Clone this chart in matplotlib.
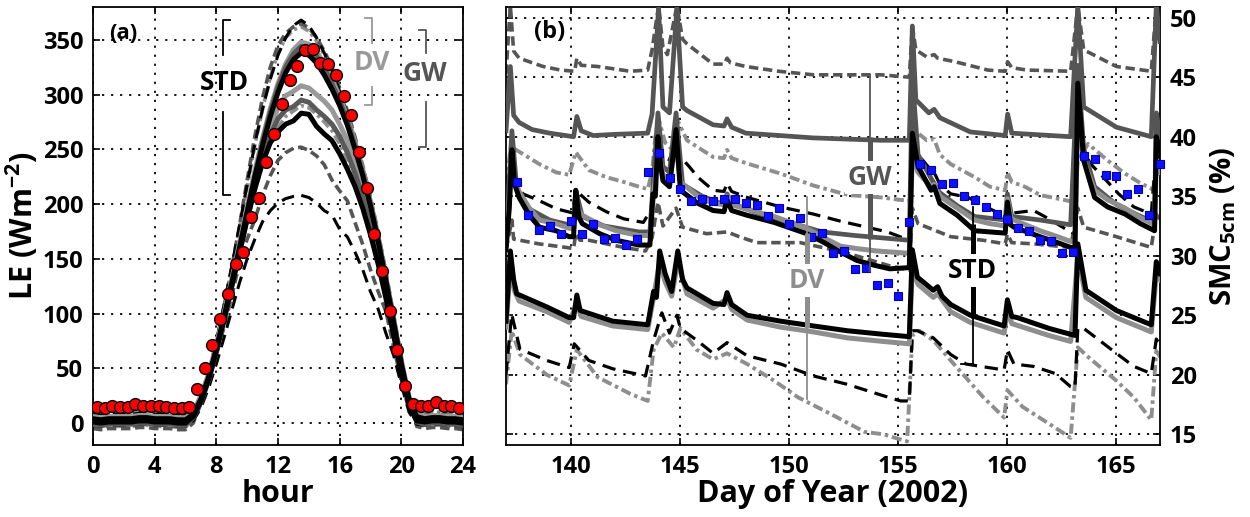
import matplotlib
matplotlib.use('Agg')
import matplotlib.pyplot as plt

plt.rcParams['font.family'] = ['Open Sans', 'DejaVu Sans']
plt.rcParams['font.weight'] = 'bold'
plt.rcParams['mathtext.fontset'] = 'custom'
plt.rcParams['mathtext.rm'] = 'Open Sans:bold'
plt.rcParams['mathtext.bf'] = 'Open Sans:bold'
plt.rcParams['mathtext.default'] = 'bf'

# ---------------- Panel (a): diurnal LE ----------------
hours = [0.0, 0.5, 1.0, 1.5, 2.0, 2.5, 3.0, 3.5, 4.0, 4.5, 5.0, 5.5, 6.0, 6.5, 7.0, 7.5,
         8.0, 8.5, 9.0, 9.5, 10.0, 10.5, 11.0, 11.5, 12.0, 12.5, 13.0, 13.5, 14.0, 14.5,
         15.0, 15.5, 16.0, 16.5, 17.0, 17.5, 18.0, 18.5, 19.0, 19.5, 20.0, 20.5, 21.0,
         21.5, 22.0, 22.5, 23.0, 23.5, 24.0]

le_std_wet = [4, 3, 4, 4, 4, 4, 5, 5, 4, 4, 4, 3, 3, 8, 22, 42, 68, 97, 128, 160, 193, 225, 254, 280,
              302, 320, 332, 338, 336, 329, 318, 305, 290, 272, 250, 226, 198, 166, 130, 92, 54, 22, 6,
              4, 5, 5, 4, 4, 3]
le_dv_wet = [6, 5, 6, 6, 6, 6, 7, 7, 6, 6, 6, 5, 5, 10, 25, 45, 71, 100, 131, 164, 197, 230, 260, 287,
             310, 328, 341, 348, 346, 339, 328, 314, 298, 279, 256, 231, 202, 170, 133, 95, 57, 24, 8,
             6, 7, 7, 6, 6, 5]
le_gw_wet = [2, 1, 2, 2, 2, 2, 3, 3, 2, 2, 2, 1, 1, 6, 20, 40, 66, 95, 126, 158, 192, 226, 257, 284,
             307, 325, 337, 344, 342, 335, 324, 310, 294, 276, 253, 228, 200, 168, 131, 93, 55, 21, 3,
             2, 3, 3, 2, 2, 1]
le_std_dry = [1, 0, 1, 1, 1, 1, 2, 2, 1, 1, 1, 0, 0, 6, 20, 40, 66, 95, 125, 155, 186, 214, 238, 256,
              266, 273, 276, 283, 282, 271, 264, 258, 246, 232, 216, 196, 172, 145, 114, 80, 46, 16, 2,
              1, 2, 2, 1, 1, 0]
le_dv_dry = [3, 2, 3, 3, 3, 3, 4, 4, 3, 3, 3, 2, 2, 9, 23, 43, 69, 98, 129, 160, 192, 222, 248, 270,
             288, 299, 303, 308, 306, 300, 294, 286, 273, 258, 239, 216, 190, 160, 126, 89, 53, 20, 5,
             3, 4, 4, 3, 3, 2]
le_gw_dry = [-1, -2, -1, -1, -1, -1, 0, 0, -1, -1, -1, -2, -2, 5, 19, 39, 65, 94, 125, 156, 188, 218,
             243, 263, 278, 286, 289, 295, 293, 286, 280, 273, 262, 247, 228, 206, 181, 152, 120, 85,
             50, 18, 1, -1, 0, 0, -1, -1, -2]
le_std_hi = [8, 7, 8, 8, 8, 8, 9, 9, 8, 8, 8, 7, 7, 10, 25, 47, 75, 108, 143, 180, 218, 255, 287, 314,
             336, 352, 363, 368, 363, 352, 338, 322, 303, 282, 258, 232, 203, 171, 135, 96, 58, 24, 8,
             7, 8, 8, 7, 7, 6]
le_std_lo = [-2, -3, -2, -2, -2, -2, -1, -1, -2, -2, -2, -3, -3, 2, 14, 32, 54, 78, 103, 128, 150, 168,
             184, 194, 201, 205, 207, 208, 206, 201, 194, 190, 177, 170, 156, 140, 120, 104, 82, 62, 35,
             10, -1, -2, -1, -1, -2, -2, -3]
le_gw_hi = [-5, -6, -5, -5, -5, -5, -4, -4, -5, -5, -5, -6, -6, 0, 18, 42, 72, 106, 142, 180, 222, 262,
            297, 325, 345, 356, 362, 365, 361, 352, 340, 325, 306, 285, 261, 235, 206, 174, 138, 99,
            60, 22, -3, -5, -4, -4, -5, -5, -6]
le_gw_lo = [6, 5, 6, 6, 6, 6, 7, 7, 6, 6, 6, 5, 5, 8, 20, 39, 62, 88, 116, 146, 168, 186, 208, 226,
            240, 247, 251, 252, 249, 244, 236, 222, 212, 203, 183, 163, 140, 120, 102, 70, 38, 12, 5,
            6, 7, 7, 6, 6, 5]
le_dv_hi = [-3, -4, -3, -3, -3, -3, -2, -2, -3, -3, -3, -4, -4, 3, 20, 44, 73, 106, 141, 178, 216, 254,
            287, 316, 338, 352, 359, 362, 358, 349, 336, 321, 303, 282, 258, 232, 204, 172, 136, 97,
            58, 22, 0, -3, -2, -2, -3, -3, -4]
le_dv_lo = [9, 8, 9, 9, 9, 9, 10, 10, 9, 9, 9, 8, 8, 11, 24, 43, 68, 96, 125, 155, 185, 212, 236, 256,
            270, 280, 285, 290, 288, 282, 275, 267, 255, 240, 222, 200, 176, 149, 118, 84, 50, 19, 10,
            9, 10, 10, 9, 9, 8]

obs_hours = [0.25, 0.75, 1.25, 1.75, 2.25, 2.75, 3.25, 3.75, 4.25, 4.75, 5.25, 5.75, 6.25, 6.75,
             7.25, 7.75, 8.25, 8.75, 9.25, 9.75, 10.25, 10.75, 11.25, 11.75, 12.25, 12.75, 13.25,
             13.75, 14.25, 14.75, 15.25, 15.75, 16.25, 16.75, 17.25, 17.75, 18.25, 18.75, 19.25,
             19.75, 20.25, 20.75, 21.25, 21.75, 22.25, 22.75, 23.25, 23.75]
le_obs = [15, 14, 16, 15, 15, 17, 16, 16, 16, 15, 14, 14, 15, 31, 50, 71, 95, 118, 145, 156, 188, 206,
          238, 264, 291, 313, 326, 341, 342, 329, 328, 318, 299, 281, 248, 215, 173, 139, 102, 67, 34,
          17, 16, 16, 19, 16, 16, 14]

hour_ticks = [0, 4, 8, 12, 16, 20, 24]
le_ticks = [0, 50, 100, 150, 200, 250, 300, 350]

# ---------------- Panel (b): soil moisture (day, SMC) ----------------
gw_hi = [(137.0, 45.3), (137.2, 51.0), (137.35, 47.2), (137.6, 46.6), (138.7, 45.9), (139.5, 45.6),
         (140.15, 45.5), (140.25, 46.6), (140.45, 46.0), (141.2, 45.9), (142.7, 45.5), (143.5, 45.6),
         (143.7, 47.3), (144.0, 51.0), (144.2, 47.5), (144.4, 46.9), (144.84, 51.0), (145.1, 48.2),
         (145.3, 47.8), (146.5, 46.1), (147.0, 46.1), (147.14, 46.6), (147.3, 46.2), (148.0, 45.9),
         (149.5, 45.5), (151.1, 45.2), (154.2, 45.2), (155.5, 45.0), (155.64, 49.3), (155.8, 47.3),
         (156.3, 46.7), (156.64, 46.9), (156.8, 46.6), (157.6, 46.3), (159.1, 45.6), (159.9, 45.5),
         (160.01, 46.3), (160.2, 45.8), (160.9, 45.6), (162.9, 45.5), (163.23, 51.0), (163.5, 47.3),
         (165.0, 45.9), (166.6, 45.5), (166.83, 51.0), (167.0, 49.0)]
gw_mid = [(137.0, 40.5), (137.2, 45.9), (137.35, 41.8), (137.6, 41.2), (138.2, 40.6), (139.0, 40.3),
          (140.1, 40.0), (140.25, 41.7), (140.45, 40.5), (141.0, 40.1), (142.0, 40.2), (143.5, 40.3),
          (143.7, 41.9), (144.0, 50.8), (144.2, 42.5), (144.5, 42.0), (144.84, 50.8), (145.1, 42.5),
          (145.3, 42.2), (146.5, 41.0), (147.0, 40.9), (147.14, 41.5), (147.35, 40.8), (148.0, 40.3),
          (151.1, 39.9), (154.2, 39.7), (155.5, 39.7), (155.64, 49.3), (155.8, 43.1), (156.4, 42.0),
          (156.64, 42.3), (156.9, 41.6), (157.6, 41.0), (158.3, 40.4), (159.9, 40.1), (160.01, 41.9),
          (160.2, 40.3), (162.9, 40.0), (163.23, 51.0), (163.5, 42.5), (165.0, 40.8), (166.6, 40.0),
          (166.83, 51.0), (167.0, 48.0)]
gw_wet = [(137.0, 31.0), (137.27, 40.5), (137.5, 35.5), (138.0, 34.0), (139.0, 33.0), (140.1, 32.5),
          (140.2, 35.5), (140.5, 33.3), (141.5, 32.5), (143.1, 32.0), (143.6, 32.0), (143.97, 42.0),
          (144.2, 37.5), (144.5, 37.0), (144.8, 42.0), (145.1, 36.0), (146.0, 35.0), (147.0, 34.3),
          (147.14, 35.2), (147.35, 34.4), (148.5, 33.6), (150.0, 32.8), (151.5, 32.0), (153.0, 31.7),
          (155.5, 31.3), (155.64, 45.0), (155.9, 38.5), (156.5, 36.5), (156.9, 35.3), (157.7, 34.2),
          (158.5, 33.3), (159.9, 33.0), (160.0, 35.2), (160.2, 33.3), (161.5, 33.0), (162.9, 32.6),
          (163.23, 46.0), (163.5, 39.0), (164.0, 35.8), (165.0, 34.3), (166.0, 33.4), (166.75, 32.8),
          (166.83, 42.0), (167.0, 40.0)]
gw_lo = [(137.0, 30.5), (137.27, 33.0), (137.35, 31.4), (138.5, 31.0), (139.75, 30.7), (140.1, 30.6),
         (140.2, 31.85), (140.4, 31.3), (140.8, 31.3), (142.4, 30.7), (143.4, 30.4), (143.7, 31.5),
         (143.97, 34.5), (144.2, 32.5), (144.8, 34.0), (145.1, 32.4), (146.2, 31.85), (147.14, 32.0),
         (147.7, 31.6), (148.5, 31.1), (150.5, 31.1), (152.5, 30.3), (154.5, 29.2), (155.5, 28.8),
         (155.64, 34.0), (155.9, 32.7), (157.4, 31.6), (158.9, 31.3), (159.9, 31.0), (160.0, 31.8),
         (160.2, 31.1), (161.2, 31.0), (162.9, 30.7), (163.23, 34.0), (163.5, 32.4), (165.0, 31.6),
         (166.6, 30.7), (166.83, 33.5), (167.0, 33.0)]
dv_hi = [(137.0, 36.0), (137.22, 39.2), (137.46, 38.9), (138.53, 37.7), (139.3, 37.0), (139.9, 36.8),
         (140.2, 38.7), (140.8, 37.2), (141.6, 36.6), (142.4, 36.2), (143.1, 35.8), (143.5, 35.6),
         (143.7, 37.0), (143.85, 40.0), (144.0, 41.5), (144.3, 39.5), (144.6, 39.0), (144.84, 41.5),
         (145.3, 39.7), (146.5, 38.3), (147.0, 38.2), (147.14, 38.9), (147.35, 38.2), (148.06, 37.75),
         (149.6, 36.9), (151.1, 35.9), (152.7, 35.1), (154.2, 34.9), (155.5, 34.6), (155.64, 38.0),
         (155.9, 40.3), (156.3, 39.7), (156.64, 39.8), (156.9, 38.5), (157.4, 37.7), (158.5, 36.6),
         (159.2, 35.8), (159.9, 35.5), (160.0, 37.0), (160.2, 36.2), (160.8, 35.8), (161.5, 35.1),
         (162.3, 34.8), (163.1, 34.5), (163.23, 38.0), (163.7, 39.4), (164.6, 38.0), (165.4, 36.9),
         (166.1, 36.1), (166.75, 35.5), (166.83, 38.0), (167.0, 37.5)]
dv_wet = [(137.0, 31.0), (137.15, 34.5), (137.27, 38.0), (137.4, 36.3), (137.6, 35.4), (138.07, 34.0),
          (138.53, 33.0), (139.3, 32.7), (139.9, 32.3), (140.1, 32.3), (140.2, 35.0), (140.35, 33.8),
          (140.5, 33.4), (141.3, 32.6), (142.05, 32.1), (143.1, 31.7), (143.6, 31.7), (143.74, 34.5),
          (143.97, 39.0), (144.2, 36.8), (144.5, 36.4), (144.8, 39.5), (145.0, 36.2), (145.8, 35.0),
          (146.5, 34.4), (147.0, 34.3), (147.14, 35.0), (147.35, 34.3), (148.06, 33.9), (149.3, 33.3),
          (150.8, 32.3), (151.6, 31.5), (152.35, 30.8), (153.1, 30.6), (154.0, 30.4), (155.5, 30.2),
          (155.64, 38.5), (155.9, 37.0), (156.5, 35.8), (156.64, 36.0), (156.9, 35.0), (157.7, 34.0),
          (158.5, 33.0), (159.2, 32.7), (159.9, 32.5), (160.0, 34.8), (160.15, 33.2), (160.3, 33.0),
          (161.5, 32.1), (162.3, 31.6), (162.9, 31.2), (163.1, 31.2), (163.23, 42.0), (163.5, 38.0),
          (164.0, 35.5), (164.6, 34.7), (165.4, 34.0), (166.1, 33.2), (166.75, 32.6), (166.83, 38.0),
          (167.0, 37.0)]
std_hi = [(137.0, 33.0), (137.22, 38.5), (137.5, 36.0), (137.77, 35.2), (138.5, 34.65), (139.3, 33.95),
          (140.05, 33.6), (140.2, 35.5), (140.8, 34.5), (141.6, 33.7), (142.4, 33.1), (143.3, 32.8),
          (143.7, 34.0), (143.9, 38.5), (144.1, 37.2), (144.4, 37.7), (144.84, 39.5), (145.0, 38.3),
          (145.4, 37.5), (145.8, 36.6), (146.5, 35.5), (147.0, 35.4), (147.14, 36.1), (147.35, 35.4),
          (148.06, 34.9), (149.6, 34.1), (151.1, 33.5), (152.35, 32.9), (154.5, 32.0), (155.5, 31.3),
          (155.64, 39.0), (155.9, 38.5), (156.4, 37.4), (156.64, 37.0), (156.9, 36.0), (157.4, 35.2),
          (158.2, 34.9), (158.9, 34.2), (159.7, 33.5), (160.0, 33.4), (160.1, 34.2), (160.3, 33.6),
          (161.2, 33.8), (162.0, 33.0), (162.8, 32.1), (163.1, 31.8), (163.23, 40.0), (163.8, 37.75),
          (164.4, 36.6), (165.1, 35.2), (165.8, 34.1), (166.6, 33.5), (166.83, 39.0), (167.0, 38.0)]
std_wet = [(137.0, 30.5), (137.15, 34.0), (137.27, 38.9), (137.4, 36.0), (137.6, 34.9), (138.07, 33.4),
           (138.53, 32.4), (139.3, 32.1), (139.9, 31.6), (140.1, 31.6), (140.2, 35.5), (140.35, 33.2),
           (140.5, 32.7), (141.3, 31.85), (142.05, 31.3), (143.1, 30.9), (143.6, 30.9), (143.74, 35.2),
           (143.85, 35.0), (143.97, 40.0), (144.1, 37.5), (144.2, 36.3), (144.5, 35.8), (144.8, 40.6),
           (145.0, 35.5), (145.8, 34.4), (146.5, 33.8), (147.0, 33.7), (147.14, 34.7), (147.35, 33.8),
           (148.06, 33.4), (149.3, 32.8), (150.8, 31.85), (151.6, 31.1), (152.35, 30.3), (153.1, 29.6),
           (153.9, 29.2), (154.6, 28.9), (155.5, 29.0), (155.64, 40.3), (155.9, 37.5), (156.5, 35.5),
           (156.64, 35.8), (156.9, 34.4), (157.7, 33.4), (158.5, 32.1), (159.2, 32.0), (159.9, 31.9),
           (160.0, 34.5), (160.15, 32.6), (160.3, 32.4), (161.5, 31.6), (162.3, 31.1), (162.9, 30.7),
           (163.1, 30.7), (163.23, 44.5), (163.5, 38.0), (164.0, 34.9), (164.6, 34.1), (165.4, 33.5),
           (166.1, 32.7), (166.75, 32.1), (166.83, 40.0), (167.0, 38.5)]
std_dry = [(137.0, 24.5), (137.2, 30.4), (137.35, 28.0), (137.49, 26.8), (138.87, 25.7), (139.9, 24.8),
           (140.1, 24.8), (140.25, 26.7), (140.4, 25.4), (141.9, 24.5), (143.5, 24.2), (143.77, 27.0),
           (143.9, 26.5), (144.05, 30.4), (144.3, 28.5), (144.6, 27.0), (144.88, 30.4), (145.1, 28.0),
           (145.3, 27.3), (146.5, 26.0), (147.0, 25.9), (147.14, 26.9), (147.35, 25.9), (148.06, 25.0),
           (149.6, 24.5), (151.1, 24.1), (152.65, 23.7), (154.3, 23.4), (155.5, 23.2), (155.64, 30.5),
           (155.87, 28.2), (156.6, 27.1), (156.8, 27.4), (157.0, 26.6), (157.4, 25.9), (158.3, 25.0),
           (159.85, 24.1), (160.0, 26.3), (160.2, 24.9), (160.46, 24.8), (161.9, 23.9), (162.9, 23.4),
           (163.1, 23.3), (163.23, 31.0), (163.6, 27.1), (165.0, 25.4), (166.6, 24.2), (166.83, 29.5),
           (167.0, 28.5)]
dv_dry = [(137.0, 24.0), (137.2, 29.0), (137.4, 27.0), (137.6, 26.2), (138.87, 25.3), (139.9, 24.4),
          (140.25, 26.0), (140.45, 24.9), (141.9, 24.1), (143.5, 23.8), (143.77, 26.5), (144.05, 29.5),
          (144.3, 27.8), (144.6, 26.6), (144.88, 29.5), (145.3, 26.8), (146.5, 25.6), (147.14, 26.4),
          (147.35, 25.5), (148.06, 24.6), (149.6, 24.0), (151.1, 23.6), (152.65, 23.1), (154.3, 22.8),
          (155.5, 22.6), (155.64, 29.0), (155.9, 27.6), (156.6, 26.5), (156.8, 26.8), (157.4, 25.3),
          (158.3, 24.4), (159.85, 23.5), (160.0, 25.5), (160.2, 24.3), (161.9, 23.3), (162.9, 22.8),
          (163.23, 30.0), (163.6, 26.5), (165.0, 24.8), (166.6, 23.6), (166.83, 28.5), (167.0, 28.0)]
std_lo = [(137.0, 20.0), (137.26, 25.1), (137.64, 22.15), (138.87, 21.2), (139.9, 20.6), (140.13, 22.6),
          (140.8, 21.2), (141.9, 20.5), (143.4, 19.9), (143.77, 22.9), (144.15, 25.2), (144.5, 23.5),
          (144.84, 25.0), (145.0, 23.9), (145.75, 22.9), (146.5, 21.8), (147.14, 22.7), (148.06, 21.6),
          (149.6, 20.9), (151.1, 19.9), (152.65, 19.2), (154.2, 18.3), (155.1, 17.8), (155.5, 17.8),
          (155.64, 23.7), (155.87, 23.7), (156.6, 23.1), (157.4, 21.7), (158.1, 20.9), (159.85, 20.4),
          (160.0, 22.1), (160.3, 20.9), (161.2, 20.7), (162.2, 20.1), (162.9, 19.0), (163.1, 18.9),
          (163.23, 23.9), (163.5, 23.9), (165.0, 21.8), (165.8, 20.7), (166.6, 20.1), (166.83, 23.0),
          (167.0, 22.5)]
dv_lo = [(137.0, 19.2), (137.26, 23.7), (137.64, 21.7), (138.87, 20.0), (139.9, 19.1), (140.25, 22.1),
         (141.2, 19.8), (142.7, 18.4), (143.5, 17.8), (143.77, 22.1), (144.15, 23.5), (144.7, 22.3),
         (145.0, 23.9), (145.75, 22.1), (146.5, 21.3), (147.14, 21.8), (148.06, 20.9), (149.3, 19.5),
         (150.4, 18.1), (151.9, 16.7), (153.45, 15.2), (154.3, 15.0), (155.4, 14.4), (155.64, 23.3),
         (155.95, 23.7), (156.6, 22.9), (157.4, 21.2), (158.9, 18.1), (159.85, 16.4), (160.0, 18.7),
         (160.7, 17.3), (161.9, 15.9), (162.9, 14.7), (163.23, 22.3), (163.7, 21.5), (165.0, 19.5),
         (165.8, 18.1), (166.6, 16.2), (166.83, 22.0), (167.0, 21.5)]

obs_days = [137.5, 138.0, 138.5, 139.0, 139.5, 140.0, 140.5, 141.0, 141.5, 142.0, 142.5, 143.0,
            143.5, 144.0, 144.5, 145.0, 145.5, 146.0, 146.5, 147.0, 147.5, 148.0, 148.5, 149.0,
            149.5, 150.0, 150.5, 151.0, 151.5, 152.0, 152.5, 153.0, 153.5, 154.0, 154.5, 155.0,
            155.5, 156.0, 156.5, 157.0, 157.5, 158.0, 158.5, 159.0, 159.5, 160.0, 160.5, 161.0,
            161.5, 162.0, 162.5, 163.0, 163.5, 164.0, 164.5, 165.0, 165.5, 166.0, 166.5, 167.0]
smc_obs = [36.2, 33.4, 32.2, 32.5, 31.85, 32.9, 31.8, 32.7, 31.4, 31.5, 30.9, 31.4,
           37.0, 38.6, 36.5, 35.6, 34.6, 34.8, 34.6, 34.8, 34.8, 34.4, 34.3, 33.3,
           34.0, 32.7, 33.2, 31.6, 31.9, 30.2, 30.4, 28.9, 29.0, 27.5, 27.7, 26.6,
           32.8, 37.7, 37.2, 36.0, 36.1, 35.0, 34.7, 34.1, 33.5, 33.1, 32.3, 32.1,
           31.3, 31.2, 30.2, 30.3, 38.4, 38.1, 36.8, 36.7, 35.2, 35.6, 33.4, 37.7]

day_ticks = [140, 145, 150, 155, 160, 165]
smc_ticks = [15, 20, 25, 30, 35, 40, 45, 50]

# ---------------- styling ----------------
BLACK = '#000000'
LGRAY = '#8e8e8e'
DGRAY = '#555555'
DASH_K = (0, (4.2, 2.4))
DASH_G = (0, (2.6, 1.3))
DASHDOT = (0, (2.6, 1.0, 0.9, 1.0))
GRID_LS = (0, (1.2, 3.8))

fig = plt.figure(figsize=(12.5, 5.17), dpi=100)
ax_a = fig.add_axes([0.0744, 0.1393, 0.296, 0.8472])
ax_b = fig.add_axes([0.4048, 0.1393, 0.5232, 0.8472])

for ax in (ax_a, ax_b):
    ax.grid(True, linestyle=GRID_LS, color='k', lw=1.3, zorder=0)
    ax.tick_params(direction='in', length=5, width=1.2, top=True, right=True,
                   labelsize=17, pad=7)
    for sp in ax.spines.values():
        sp.set_linewidth(1.3)
    ax.set_axisbelow(True)

# ----- panel (a) -----
ax_a.plot(hours, le_dv_lo, color=LGRAY, lw=2.6, ls=DASHDOT, zorder=2)
ax_a.plot(hours, le_dv_hi, color=LGRAY, lw=2.6, ls=DASHDOT, zorder=2)
ax_a.plot(hours, le_gw_lo, color=DGRAY, lw=2.6, ls=DASH_G, zorder=2)
ax_a.plot(hours, le_gw_hi, color=DGRAY, lw=2.6, ls=DASH_G, zorder=2)
ax_a.plot(hours, le_std_lo, color=BLACK, lw=2.2, ls=DASH_K, zorder=2)
ax_a.plot(hours, le_std_hi, color=BLACK, lw=2.2, ls=DASH_K, zorder=2)
ax_a.plot(hours, le_dv_wet, color='#999999', lw=3.6, zorder=3)
ax_a.plot(hours, le_dv_dry, color='#999999', lw=3.6, zorder=3)
ax_a.plot(hours, le_gw_wet, color='#5a5a5a', lw=3.6, zorder=3)
ax_a.plot(hours, le_gw_dry, color='#5a5a5a', lw=3.6, zorder=3)
ax_a.plot(hours, le_std_wet, color=BLACK, lw=3.6, zorder=4)
ax_a.plot(hours, le_std_dry, color=BLACK, lw=3.6, zorder=4)
ax_a.plot(obs_hours, le_obs, 'o', ms=8.5, mfc='#ff0000', mec='#000000', mew=1.0, zorder=6)

ax_a.set_xlim(0, 24)
ax_a.set_ylim(-20, 380)
ax_a.set_xticks(hour_ticks)
ax_a.set_yticks(le_ticks)
ax_a.set_xlabel('hour', fontsize=22, fontweight='bold', labelpad=0)
ax_a.set_ylabel('LE (Wm$^{-2}$)', fontsize=22, fontweight='bold', labelpad=2)

ax_a.text(1.95, 356, '(a)', fontsize=16, fontweight='bold', ha='center', va='center')

# brackets in panel (a)
bw = 1.3
ax_a.plot([8.9, 8.45, 8.45], [368, 368, 336], color=BLACK, lw=bw, zorder=7)
ax_a.plot([8.45, 8.45, 8.9], [284, 208, 208], color=BLACK, lw=bw, zorder=7)
ax_a.text(8.5, 311, 'STD', fontsize=19, fontweight='bold', ha='center', va='center', color=BLACK)
ax_a.plot([17.65, 18.1, 18.1], [370, 370, 347], color='#999999', lw=bw, zorder=7)
ax_a.plot([18.1, 18.1, 17.65], [307, 290.6, 290.6], color='#999999', lw=bw, zorder=7)
ax_a.text(18.1, 329, 'DV', fontsize=19, fontweight='bold', ha='center', va='center', color='#999999')
ax_a.plot([21.15, 21.6, 21.6], [359, 359, 338], color=DGRAY, lw=bw, zorder=7)
ax_a.plot([21.6, 21.6, 21.15], [293, 252, 252], color=DGRAY, lw=bw, zorder=7)
ax_a.text(21.5, 319, 'GW', fontsize=19, fontweight='bold', ha='center', va='center', color=DGRAY)


def xy(pairs):
    return [p[0] for p in pairs], [p[1] for p in pairs]


# ----- panel (b) -----
ax_b.plot(*xy(gw_hi), color=DGRAY, lw=2.6, ls=DASH_G, zorder=2)
ax_b.plot(*xy(gw_lo), color=DGRAY, lw=2.6, ls=DASH_G, zorder=2)
ax_b.plot(*xy(dv_hi), color=LGRAY, lw=2.8, ls=DASHDOT, zorder=2)
ax_b.plot(*xy(dv_lo), color=LGRAY, lw=2.8, ls=DASHDOT, zorder=2)
ax_b.plot(*xy(std_hi), color=BLACK, lw=2.3, ls=DASH_K, zorder=2)
ax_b.plot(*xy(std_lo), color=BLACK, lw=2.3, ls=DASH_K, zorder=2)
ax_b.plot(*xy(gw_mid), color=DGRAY, lw=3.4, zorder=3)
ax_b.plot(*xy(gw_wet), color=DGRAY, lw=3.4, zorder=3)
ax_b.plot(*xy(dv_wet), color=LGRAY, lw=3.6, zorder=3)
ax_b.plot(*xy(dv_dry), color=LGRAY, lw=3.6, zorder=3)
ax_b.plot(*xy(std_wet), color=BLACK, lw=3.6, zorder=4)
ax_b.plot(*xy(std_dry), color=BLACK, lw=3.6, zorder=4)
ax_b.plot(obs_days, smc_obs, 's', ms=6, mfc='#1010ff', mec='#0000b0', mew=0.8, zorder=6,
          clip_on=False)

ax_b.set_xlim(137.0, 167.0)
ax_b.set_ylim(14.1, 50.9)
ax_b.set_xticks(day_ticks)
ax_b.set_yticks(smc_ticks)
ax_b.tick_params(axis='y', left=True, right=True, labelleft=False, labelright=True)
ax_b.yaxis.set_label_position('right')
ax_b.set_xlabel('Day of Year (2002)', fontsize=22, fontweight='bold', labelpad=0)
ax_b.set_ylabel('SMC$_{5cm}$ (%)', fontsize=21, fontweight='bold', labelpad=8)
ax_b.text(139.0, 48.8, '(b)', fontsize=17, fontweight='bold', ha='center', va='center')


def range_bar(ax, x, hi, wet, dry, lo, ytext, label, color):
    ax.plot([x, x], [lo, hi], color=color, lw=1.3, zorder=7)
    ax.plot([x, x], [dry, wet], color=color, lw=3.6, zorder=7, solid_capstyle='butt')
    ax.text(x, ytext, label, color=color, fontsize=19, fontweight='bold', ha='center',
            va='center', zorder=8, bbox=dict(fc='white', ec='none', pad=2))


range_bar(ax_b, 153.7, 45.2, 40.0, 31.4, 28.75, 36.6, 'GW', DGRAY)
range_bar(ax_b, 150.8, 34.9, 31.9, 23.95, 18.0, 27.9, 'DV', LGRAY)
range_bar(ax_b, 158.4, 34.1, 32.7, 24.8, 20.9, 28.75, 'STD', BLACK)
ax_b.plot([157.85, 158.4], [20.9, 20.9], color=BLACK, lw=1.3, zorder=7)

fig.savefig('out.png', dpi=100)
